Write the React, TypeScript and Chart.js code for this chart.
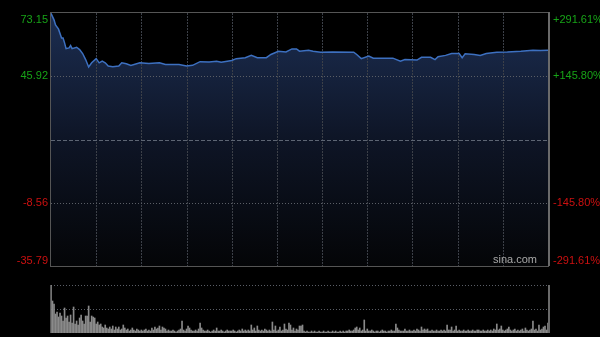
import React, { useEffect, useRef } from "react";
import { Chart, registerables } from "chart.js";
Chart.register(...registerables);

// ---- data ----
const totalMinutes = 330;
const gridStepMinutes = 30;
const prevClose = 18.68;
const priceTicks = [73.15, 45.92, 18.68, -8.56, -35.79];
const leftTickLabels = ["73.15", "45.92", "", "-8.56", "-35.79"];
const rightTickLabels = ["+291.61%", "+145.80%", "", "-145.80%", "-291.61%"];

const priceMinutes = [
  0, 2, 3, 5, 7, 8, 9, 10, 12, 13, 14, 17, 19, 21, 23, 25, 27, 30, 32, 34,
  36, 38, 41, 45, 47, 50, 53, 59, 65, 72, 76, 85, 90, 94, 99, 105, 110, 113,
  120, 123, 129, 133, 137, 143, 146, 151, 156, 160, 163, 165, 171, 174, 179,
  187, 201, 203, 206, 211, 214, 227, 232, 235, 243, 246, 252, 255, 257, 262,
  266, 271, 273, 275, 281, 285, 289, 296, 303, 312, 320, 325, 330,
];
const prices = [
  73.0, 70.2, 68.0, 66.2, 62.4, 62.4, 60.3, 57.8, 58.1, 59.1, 57.8, 58.4,
  57.4, 55.7, 53.1, 49.9, 51.7, 53.5, 51.7, 52.4, 51.7, 50.3, 50.0, 50.3,
  51.7, 51.3, 50.6, 51.7, 51.4, 51.7, 51.0, 51.0, 50.3, 50.6, 52.2, 52.0,
  52.4, 52.0, 52.7, 53.5, 53.9, 54.9, 53.9, 53.9, 55.3, 56.7, 56.4, 57.7,
  57.7, 56.7, 57.1, 56.7, 56.3, 56.4, 56.3, 55.3, 53.5, 54.6, 53.7, 53.7,
  52.4, 53.1, 52.9, 54.1, 54.1, 53.1, 54.3, 54.9, 55.7, 55.7, 53.9, 55.6,
  55.3, 54.9, 55.7, 56.3, 56.4, 56.7, 57.1, 57.0, 57.1,
];

const volumes = [
  48, 32, 29, 19, 21, 16, 20, 17, 12, 25,
  15, 17, 11, 18, 10, 26, 9, 12, 8, 15,
  18, 12, 9, 17, 17, 27, 11, 17, 16, 15,
  9, 11, 8, 9, 6, 5, 8, 5, 4, 6,
  4, 7, 3, 6, 4, 6, 3, 4, 8, 5,
  3, 4, 2, 3, 5, 3, 2, 4, 3, 2,
  3, 2, 3, 4, 2, 3, 2, 5, 3, 6,
  4, 5, 7, 3, 6, 5, 4, 2, 3, 2,
  2, 3, 2, 1, 2, 3, 4, 12, 3, 2,
  4, 7, 5, 3, 2, 2, 3, 2, 4, 10,
  5, 3, 2, 2, 3, 2, 1, 2, 3, 2,
  5, 2, 2, 3, 2, 1, 2, 3, 2, 2,
  2, 3, 2, 1, 2, 3, 2, 4, 2, 3,
  2, 3, 2, 8, 3, 5, 2, 7, 3, 2,
  3, 2, 4, 3, 2, 3, 2, 11, 3, 7,
  2, 3, 6, 2, 3, 9, 4, 3, 10, 8,
  3, 5, 2, 4, 3, 7, 7, 8, 2, 1,
  2, 1, 1, 2, 1, 2, 1, 1, 2, 1,
  1, 2, 1, 1, 2, 1, 1, 2, 1, 2,
  1, 1, 2, 1, 2, 1, 2, 2, 3, 2,
  2, 3, 5, 6, 3, 5, 2, 3, 13, 2,
  4, 2, 2, 3, 2, 1, 2, 2, 1, 2,
  3, 2, 2, 1, 2, 2, 3, 2, 2, 9,
  5, 3, 2, 2, 2, 4, 2, 2, 3, 2,
  2, 3, 2, 4, 3, 2, 6, 3, 4, 3,
  4, 2, 2, 3, 2, 2, 3, 2, 2, 3,
  2, 3, 2, 8, 3, 3, 6, 2, 3, 7,
  2, 3, 2, 2, 3, 2, 2, 3, 2, 2,
  3, 2, 2, 3, 3, 2, 2, 3, 2, 2,
  3, 2, 3, 2, 4, 3, 9, 3, 4, 7,
  3, 2, 3, 4, 6, 3, 2, 3, 4, 2,
  3, 2, 3, 4, 2, 5, 3, 2, 3, 4,
  12, 3, 4, 2, 8, 3, 4, 6, 7, 3,
  10,
];
const volumeMax = 48;

// ---- styles ----
const FONT = '11px "Liberation Sans", Arial, sans-serif';
const GREEN = "#17a317";
const RED = "#cc1010";

const crisp = (v: number) => Math.round(v) + 0.5;

const pricePanelPlugin = {
  id: "pricePanel",
  beforeDatasetsDraw(chart: any) {
    const { ctx, chartArea: ca, scales } = chart;
    const xs = scales.x;
    const ys = scales.y;
    ctx.save();
    ctx.lineWidth = 1;
    // vertical grid
    ctx.strokeStyle = "#3c4048";
    ctx.setLineDash([2, 1]);
    for (let m = gridStepMinutes; m < totalMinutes; m += gridStepMinutes) {
      const x = crisp(xs.getPixelForValue(m));
      ctx.beginPath();
      ctx.moveTo(x, ca.top);
      ctx.lineTo(x, ca.bottom);
      ctx.stroke();
    }
    // horizontal grid
    priceTicks.forEach((t) => {
      if (t === priceTicks[0] || t === priceTicks[priceTicks.length - 1]) return;
      const y = crisp(ys.getPixelForValue(t));
      if (t === prevClose) {
        ctx.strokeStyle = "#5d6573";
        ctx.setLineDash([4, 2]);
      } else {
        ctx.strokeStyle = "#5a5e66";
        ctx.setLineDash([1, 2]);
      }
      ctx.beginPath();
      ctx.moveTo(ca.left, y);
      ctx.lineTo(ca.right, y);
      ctx.stroke();
    });
    ctx.restore();
  },
  afterDatasetsDraw(chart: any) {
    const { ctx, chartArea: ca, scales } = chart;
    const ys = scales.y;
    ctx.save();
    ctx.setLineDash([]);
    ctx.strokeStyle = "#555555";
    ctx.lineWidth = 1;
    ctx.strokeRect(crisp(ca.left) - 1, crisp(ca.top) - 1, Math.round(ca.right - ca.left) + 1, Math.round(ca.bottom - ca.top) + 1);
    ctx.strokeStyle = "#6a6a6a";
    ctx.lineWidth = 2;
    ctx.beginPath();
    ctx.moveTo(Math.round(ca.right) + 1, ca.top - 1);
    ctx.lineTo(Math.round(ca.right) + 1, ca.bottom);
    ctx.stroke();

    ctx.font = FONT;
    priceTicks.forEach((t, i) => {
      const y = ys.getPixelForValue(t);
      let base: CanvasTextBaseline = "middle";
      let yy = y;
      if (i === 0) {
        base = "top";
        yy = y + 1;
      } else if (i === priceTicks.length - 1) {
        base = "bottom";
        yy = y - 0;
      }
      ctx.textBaseline = base;
      ctx.fillStyle = t > prevClose ? GREEN : RED;
      if (leftTickLabels[i]) {
        ctx.textAlign = "right";
        ctx.fillText(leftTickLabels[i], ca.left - 3, yy);
      }
      if (rightTickLabels[i]) {
        ctx.textAlign = "left";
        ctx.fillText(rightTickLabels[i], ca.right + 5, yy);
      }
    });
    // watermark
    ctx.fillStyle = "#a9a9a9";
    ctx.textAlign = "right";
    ctx.textBaseline = "bottom";
    ctx.fillText("sina.com", ca.right - 11, ca.bottom - 1);
    ctx.restore();
  },
};

const volumePanelPlugin = {
  id: "volumePanel",
  beforeDatasetsDraw(chart: any) {
    const { ctx, chartArea: ca, scales } = chart;
    const ys = scales.y;
    ctx.save();
    ctx.lineWidth = 1;
    ctx.strokeStyle = "#5a5e66";
    ctx.setLineDash([1, 2]);
    [volumeMax, volumeMax / 2].forEach((v) => {
      const y = crisp(ys.getPixelForValue(v));
      ctx.beginPath();
      ctx.moveTo(ca.left, y);
      ctx.lineTo(ca.right, y);
      ctx.stroke();
    });
    ctx.restore();
  },
  afterDatasetsDraw(chart: any) {
    const { ctx, chartArea: ca } = chart;
    ctx.save();
    ctx.setLineDash([]);
    ctx.lineWidth = 1;
    ctx.strokeStyle = "#555555";
    ctx.beginPath();
    ctx.moveTo(crisp(ca.left) - 1, ca.top);
    ctx.lineTo(crisp(ca.left) - 1, ca.bottom);
    ctx.stroke();
    ctx.strokeStyle = "#6a6a6a";
    ctx.lineWidth = 2;
    ctx.beginPath();
    ctx.moveTo(Math.round(ca.right) + 1, ca.top);
    ctx.lineTo(Math.round(ca.right) + 1, ca.bottom);
    ctx.stroke();
    ctx.restore();
  },
};

export default function App() {
  const priceRef = useRef<HTMLCanvasElement>(null);
  const volRef = useRef<HTMLCanvasElement>(null);

  useEffect(() => {
    const priceChart = new Chart(priceRef.current as HTMLCanvasElement, {
      type: "line",
      data: {
        datasets: [
          {
            data: priceMinutes.map((m, i) => ({ x: m, y: prices[i] })),
            borderColor: "#3d70c0",
            borderWidth: 1.5,
            pointRadius: 0,
            tension: 0,
            fill: "start",
            backgroundColor: (c: any) => {
              const ca = c.chart.chartArea;
              if (!ca) return "rgba(20,35,60,0.9)";
              const g = c.chart.ctx.createLinearGradient(0, ca.top, 0, ca.bottom);
              g.addColorStop(0, "#1c2e52");
              g.addColorStop(0.5, "#0e1526");
              g.addColorStop(1, "#040507");
              return g;
            },
          },
        ],
      },
      options: {
        responsive: false,
        animation: false,
        devicePixelRatio: 1,
        layout: { padding: { left: 51, right: 52, top: 13, bottom: 14 } },
        scales: {
          x: { type: "linear", min: 0, max: totalMinutes, display: false },
          y: { type: "linear", min: priceTicks[priceTicks.length - 1], max: priceTicks[0], display: false },
        },
        plugins: {
          legend: { display: false },
          tooltip: { enabled: false },
          filler: { drawTime: "beforeDatasetsDraw" },
        },
      },
      plugins: [pricePanelPlugin],
    } as any);

    const volChart = new Chart(volRef.current as HTMLCanvasElement, {
      type: "bar",
      data: {
        datasets: [
          {
            data: volumes.map((v, i) => ({ x: i, y: v })),
            backgroundColor: "#8a8a8a",
            barThickness: 1,
            borderWidth: 0,
          },
        ],
      },
      options: {
        responsive: false,
        animation: false,
        devicePixelRatio: 1,
        layout: { padding: { left: 51, right: 52, top: 5, bottom: 4 } },
        scales: {
          x: { type: "linear", min: 0, max: totalMinutes, offset: false, display: false },
          y: { type: "linear", min: 0, max: volumeMax, display: false },
        },
        plugins: { legend: { display: false }, tooltip: { enabled: false } },
      },
      plugins: [volumePanelPlugin],
    } as any);

    return () => {
      priceChart.destroy();
      volChart.destroy();
    };
  }, []);

  return (
    <div
      style={{
        position: "absolute",
        left: 0,
        top: 0,
        width: 600,
        height: 337,
        background: "#000",
        overflow: "hidden",
      }}
    >
      <canvas
        ref={priceRef}
        width={600}
        height={280}
        style={{ position: "absolute", left: 0, top: 0, width: 600, height: 280, display: "block" }}
      />
      <canvas
        ref={volRef}
        width={600}
        height={57}
        style={{ position: "absolute", left: 0, top: 280, width: 600, height: 57, display: "block" }}
      />
    </div>
  );
}
